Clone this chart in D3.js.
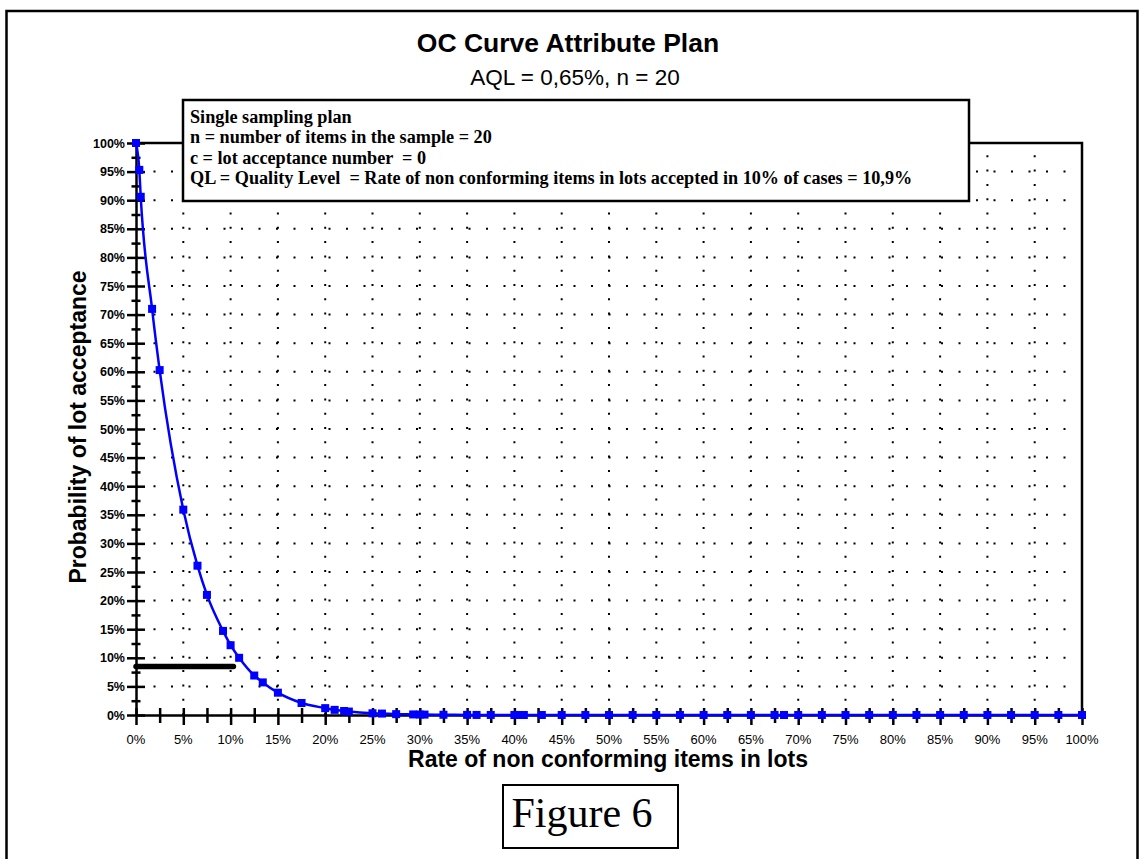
<!DOCTYPE html>
<html>
<head>
<meta charset="utf-8">
<script src="https://cdn.jsdelivr.net/npm/d3@7"></script>
<style>
  body { margin: 0; background: #fff; }
  svg { display: block; }
  .sans { font-family: "Liberation Sans", Arial, sans-serif; }
  .serif { font-family: "Liberation Serif", "Times New Roman", serif; white-space: pre; }
</style>
</head>
<body>
<div id="anchor-point"></div>
<script>
// OC curve, single sampling plan n = 20, c = 0

const rate = [0, 0.35, 0.5, 1.7, 2.5, 5, 6.5, 7.5, 9.2, 10, 10.9, 12.5, 13.4, 15, 17.5,
  20, 21, 22, 22.5, 25, 26, 27.5, 29.3, 30, 30.5, 32.5, 35, 36, 37.5, 40, 40.5, 41,
  42.9, 45, 47.5, 50, 52.5, 55, 57.5, 60, 62.5, 65, 67.5, 68.5, 70, 72.5, 75, 77.5,
  80, 82.5, 85, 87.5, 90, 92.5, 95, 97.5, 100];
const accept = [100, 95.3, 90.6, 71, 60.3, 35.9, 26.1, 21, 14.7, 12.2, 10, 6.9, 5.7, 3.9, 2.1,
  1.2, 0.9, 0.7, 0.6, 0.3, 0.25, 0.15, 0.1, 0.08, 0.07, 0.04, 0.02, 0.01, 0.01, 0, 0, 0,
  0, 0, 0, 0, 0, 0, 0, 0, 0, 0, 0, 0, 0, 0, 0, 0,
  0, 0, 0, 0, 0, 0, 0, 0, 0];

// black bar marking the QL level
const qlBar = [[0, 8.5], [10.3, 8.5]];

const legendLines = [
  "Single sampling plan",
  "n = number of items in the sample = 20",
  "c = lot acceptance number  = 0",
  "QL = Quality Level  = Rate of non conforming items in lots accepted in 10% of cases = 10,9%"
];

const title = "OC Curve Attribute Plan";
const subtitle = "AQL = 0,65%, n = 20";
const xTitle = "Rate of non conforming items in lots";
const yTitle = "Probability of lot acceptance";
const figLabel = "Figure 6";

const majorTicks = d3.range(0, 101, 5);
const allTicks = d3.range(0, 100.1, 2.5);

const W = 1144, H = 859;
const x = d3.scaleLinear([0, 100], [136, 1082]);
const y = d3.scaleLinear([0, 100], [715, 143]);
const pct = d => d + "%";

const svg = d3.select("#anchor-point").append("svg")
  .attr("width", W).attr("height", H);

// outer frame
svg.append("rect")
  .attr("x", 6.5).attr("y", 11).attr("width", 1131).attr("height", 870)
  .attr("fill", "none").attr("stroke", "#000").attr("stroke-width", 2.5);

// dotted grid
const grid = svg.append("g");
grid.selectAll(".hgrid")
  .data(majorTicks.filter(d => d > 0 && d < 100))
  .join("line")
  .attr("x1", x(0)).attr("x2", x(100))
  .attr("y1", d => y(d)).attr("y2", d => y(d))
  .attr("stroke", "#000").attr("stroke-width", 2)
  .attr("stroke-dasharray", "2,15.5");
grid.selectAll(".vgrid")
  .data(majorTicks.filter(d => d > 0 && d < 100))
  .join("line")
  .attr("x1", d => x(d)).attr("x2", d => x(d))
  .attr("y1", y(0)).attr("y2", y(100))
  .attr("stroke", "#000").attr("stroke-width", 2)
  .attr("stroke-dasharray", "2,12.3");

// plot frame (top and right)
svg.append("path")
  .attr("d", `M${x(0)},${y(100)}H${x(100)}V${y(0)}`)
  .attr("fill", "none").attr("stroke", "#000").attr("stroke-width", 2.5);

// QL bar
svg.append("path")
  .attr("d", d3.line().x(d => x(d[0])).y(d => y(d[1]))(qlBar))
  .attr("stroke", "#000").attr("stroke-width", 5.5).attr("stroke-linecap", "round");

// axes
const yAxis = svg.append("g")
  .attr("transform", `translate(${x(0)},0)`)
  .call(d3.axisLeft(y).tickValues(allTicks).tickSize(0).tickFormat(""));
yAxis.select(".domain").attr("stroke-width", 2.5);
yAxis.selectAll(".tick line")
  .attr("stroke-width", 2.5)
  .attr("x1", d => d % 5 === 0 ? -9 : -4.5)
  .attr("x2", d => d % 5 === 0 ? 9 : 4.5);

svg.append("g").selectAll("text")
  .data(majorTicks)
  .join("text")
  .attr("class", "sans")
  .attr("x", 125).attr("y", d => y(d))
  .attr("dy", "0.36em")
  .attr("text-anchor", "end")
  .attr("font-size", 12.5).attr("font-weight", "bold")
  .text(pct);

const xAxis = svg.append("g")
  .attr("transform", `translate(0,${y(0)})`)
  .call(d3.axisBottom(x).tickValues(allTicks).tickSize(0).tickFormat(""));
xAxis.select(".domain").attr("stroke-width", 2.5);
xAxis.selectAll(".tick line")
  .attr("stroke-width", 2.5)
  .attr("y1", -7)
  .attr("y2", d => d % 5 === 0 ? 10 : 8);

svg.append("g").selectAll("text")
  .data(majorTicks)
  .join("text")
  .attr("class", "sans")
  .attr("x", d => x(d)).attr("y", 744)
  .attr("text-anchor", "middle")
  .attr("font-size", 13)
  .text(pct);

// OC curve
svg.append("path")
  .datum(rate.map((r, i) => [r, accept[i]]))
  .attr("d", d3.line().x(d => x(d[0])).y(d => y(d[1])).curve(d3.curveMonotoneX))
  .attr("fill", "none").attr("stroke", "#0000ff").attr("stroke-width", 2.5);

svg.append("g").selectAll("rect")
  .data(rate.map((r, i) => [r, accept[i]]))
  .join("rect")
  .attr("x", d => x(d[0]) - 4).attr("y", d => y(d[1]) - 4)
  .attr("width", 8).attr("height", 8)
  .attr("fill", "#0000ff");

// legend box
svg.append("rect")
  .attr("x", 183).attr("y", 100).attr("width", 786).attr("height", 101)
  .attr("fill", "#fff").attr("stroke", "#000").attr("stroke-width", 2.5);
svg.append("g").selectAll("text")
  .data(legendLines)
  .join("text")
  .attr("class", "serif")
  .attr("x", 190).attr("y", (d, i) => 123 + i * 20.3)
  .attr("font-size", 18.2).attr("font-weight", "bold")
  .text(d => d);

// titles
svg.append("text").attr("class", "sans")
  .attr("x", 568).attr("y", 52).attr("text-anchor", "middle")
  .attr("font-size", 26.5).attr("font-weight", "bold")
  .text(title);
svg.append("text").attr("class", "sans")
  .attr("x", 575).attr("y", 85).attr("text-anchor", "middle")
  .attr("font-size", 22.5)
  .text(subtitle);

svg.append("text").attr("class", "sans")
  .attr("x", 608).attr("y", 767).attr("text-anchor", "middle")
  .attr("font-size", 23).attr("font-weight", "bold")
  .text(xTitle);
svg.append("text").attr("class", "sans")
  .attr("transform", "translate(86,427) rotate(-90)")
  .attr("text-anchor", "middle")
  .attr("font-size", 23).attr("font-weight", "bold")
  .text(yTitle);

// figure label
svg.append("rect")
  .attr("x", 503).attr("y", 785).attr("width", 175).attr("height", 63)
  .attr("fill", "#fff").attr("stroke", "#000").attr("stroke-width", 2);
svg.append("text").attr("class", "serif")
  .attr("x", 582).attr("y", 827).attr("text-anchor", "middle")
  .attr("font-size", 42)
  .text(figLabel);
</script>
</body>
</html>
